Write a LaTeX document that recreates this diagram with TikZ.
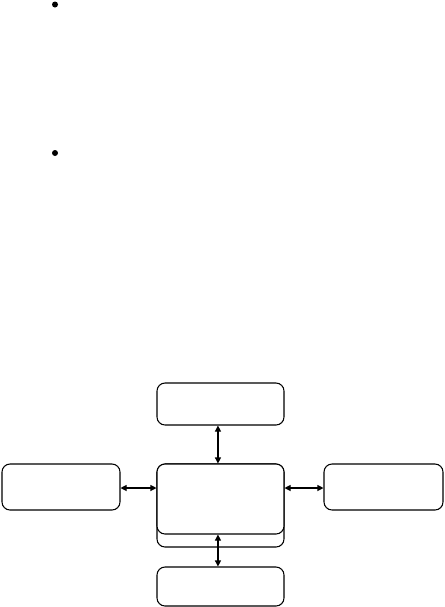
\documentclass[tikz,border=0pt]{standalone}
\usetikzlibrary{arrows.meta}
\begin{document}
\begin{tikzpicture}[x=0.75pt,y=-0.75pt,
  box/.style={draw,line width=0.8pt,rounded corners=6pt,fill=white,inner sep=0pt},
  link/.style={line width=0.8pt,{Triangle[length=4.5pt,width=4.5pt]}-{Triangle[length=4.5pt,width=4.5pt]}},
  bullet/.style={circle,fill=black,inner sep=0pt,minimum size=4.5pt}]
\useasboundingbox (0,0) rectangle (445,607);
\node[bullet] (b1) at (55,4.5) {};
\node[bullet] (b2) at (55,153) {};
\node[box,minimum width=95.25pt,minimum height=31.5pt] (top) at (220.5,404) {};
\node[box,minimum width=88.5pt,minimum height=34.5pt] (left) at (61,487) {};
\node[box,minimum width=89.25pt,minimum height=34.5pt] (right) at (383.5,487) {};
\node[box,minimum width=95.25pt,minimum height=62.25pt] (back) at (220.5,505.5) {};
\node[box,minimum width=95.25pt,minimum height=52.5pt] (front) at (220.5,499) {};
\node[box,minimum width=95.25pt,minimum height=29.25pt] (bottom) at (220.5,586.5) {};
\draw[link] ([xshift=-1.9pt]top.south) -- ([xshift=-1.9pt]front.north);
\draw[link] ([xshift=-1.9pt]front.south) -- ([xshift=-1.9pt]bottom.north);
\draw[link] ([yshift=-0.75pt]left.east) -- ([yshift=-0.75pt]left.east -| front.west);
\draw[link] ([yshift=-0.75pt]right.west -| front.east) -- ([yshift=-0.75pt]right.west);
\end{tikzpicture}
\end{document}
